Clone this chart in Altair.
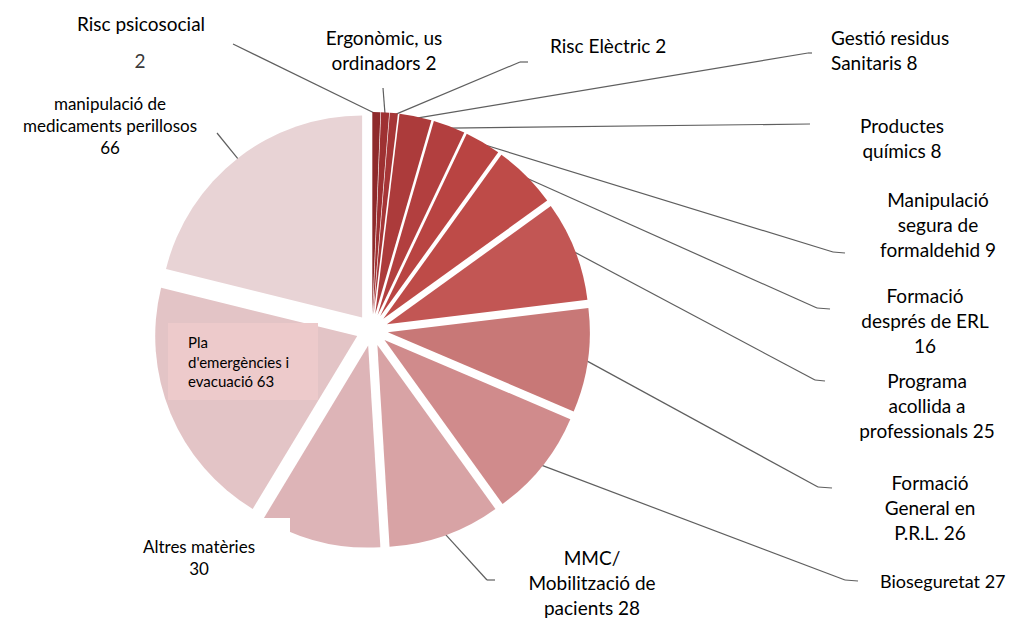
import altair as alt
import pandas as pd

# ---- data ----
categories = [
    "Risc psicosocial", "Ergonòmic, us ordinadors", "Risc Elèctric",
    "Gestió residus Sanitaris", "Productes químics",
    "Manipulació segura de formaldehid", "Formació després de ERL",
    "Programa acollida a professionals", "Formació General en P.R.L.",
    "Bioseguretat", "MMC/ Mobilització de pacients", "Altres matèries",
    "Pla d'emergències i evacuació", "manipulació de medicaments perillosos",
]
values = [2, 2, 2, 8, 8, 9, 16, 25, 26, 27, 28, 30, 63, 66]

# ---- styles ----
colors = [
    "#8E2A2B", "#9E3132", "#A63637", "#AC3B3B", "#B23F3F", "#B94442",
    "#BE4B48", "#C25654", "#C87877", "#D08B8C", "#D8A3A5", "#DDB4B7",
    "#E3C4C6", "#E8D3D5",
]

# ---- layout (page pixel coords, shifted by the 8px page margin) ----
OFF = 8
CX, CY, R, D = 372 - OFF, 330 - OFF, 202, 16

elbow_x = [233, 383, 520, 808, 810, 833, 817, 815, 818, 845, 487, None, None, 217]
elbow_y = [44, 88, 62, 53, 124, 252, 308, 380, 487, 580, 580, None, None, 133]
tail_x = [233, 383, 528, 812, 810, 845, 830, 825, 832, 858, 495, None, None, 217]
tail_y = [44, 88, 62, 53, 124, 253, 309, 381, 488, 581, 580, None, None, 133]


def sh(v):
    return None if v is None else v - OFF


df = pd.DataFrame({
    "name": categories,
    "value": values,
    "order": list(range(len(categories))),
    "ex": [sh(v) for v in elbow_x],
    "ey": [sh(v) for v in elbow_y],
    "tx": [sh(v) for v in tail_x],
    "ty": [sh(v) for v in tail_y],
})

base = alt.Chart(df).transform_joinaggregate(
    total="sum(value)"
).transform_window(
    cum="sum(value)", sort=[alt.SortField("order")], frame=[None, 0]
).transform_calculate(
    t1="2*PI*datum.cum/datum.total",
    t0="2*PI*(datum.cum-datum.value)/datum.total",
).transform_calculate(
    mid="(datum.t0+datum.t1)/2"
).transform_calculate(
    ax=f"{CX}+{D}*sin(datum.mid)",
    ay=f"{CY}-{D}*cos(datum.mid)",
    lx=f"{CX}+{R + D - 2}*sin(datum.mid)",
    ly=f"{CY}-{R + D - 2}*cos(datum.mid)",
)

leaders = base.transform_filter("isValid(datum.ex)").mark_rule(
    color="#5f5f5f", strokeWidth=1.2
).encode(
    x=alt.X("lx:Q", scale=None, axis=None),
    y=alt.Y("ly:Q", scale=None, axis=None),
    x2="ex:Q",
    y2="ey:Q",
)

tails = base.transform_filter("isValid(datum.ex)").mark_rule(
    color="#5f5f5f", strokeWidth=1.2
).encode(
    x=alt.X("ex:Q", scale=None, axis=None),
    y=alt.Y("ey:Q", scale=None, axis=None),
    x2="tx:Q",
    y2="ty:Q",
)

arcs = base.mark_arc(outerRadius=R).encode(
    theta=alt.Theta("t0:Q", scale=None),
    theta2="t1:Q",
    x=alt.X("ax:Q", scale=None, axis=None),
    y=alt.Y("ay:Q", scale=None, axis=None),
    color=alt.Color("name:N", scale=alt.Scale(domain=categories, range=colors), legend=None),
)

# label boxes
box_df = pd.DataFrame({
    "x": [168 - OFF, 128 - OFF],
    "x2": [318 - OFF, 290 - OFF],
    "y": [323 - OFF, 518 - OFF],
    "y2": [400 - OFF, 585 - OFF],
    "fill": ["#EDCACB", "#FFFFFF"],
})
boxes = alt.Chart(box_df).mark_rect().encode(
    x=alt.X("x:Q", scale=None, axis=None),
    x2="x2:Q",
    y=alt.Y("y:Q", scale=None, axis=None),
    y2="y2:Q",
    fill=alt.Fill("fill:N", scale=None),
)

# labels
lab_a = pd.DataFrame({
    "t": [
        "Risc psicosocial", "Ergonòmic, us\nordinadors 2", "Productes\nquímics 8",
        "Manipulació\nsegura de\nformaldehid 9", "Formació\ndesprés de ERL\n16",
        "Programa\nacollida a\nprofessionals 25", "Formació\nGeneral en\nP.R.L. 26",
        "MMC/\nMobilització de\npacients 28",
    ],
    "x": [141, 384, 902, 938, 925, 927, 930, 592],
    "y": [31, 45, 133, 207, 303, 388, 490, 565],
})
lab_b = pd.DataFrame({
    "t": ["Risc Elèctric 2", "Gestió residus\nSanitaris 8"],
    "x": [550, 831],
    "y": [53, 45],
})
lab_f = pd.DataFrame({"t": ["Bioseguretat 27"], "x": [880], "y": [588]})
lab_c = pd.DataFrame({
    "t": ["manipulació de\nmedicaments perillosos\n66", "Altres matèries\n30"],
    "x": [110, 199],
    "y": [110, 553],
})
lab_d = pd.DataFrame({"t": ["Pla\nd'emergències i\nevacuació 63"], "x": [188], "y": [348]})
lab_e = pd.DataFrame({"t": ["2"], "x": [140], "y": [68]})

for d in (lab_a, lab_b, lab_c, lab_d, lab_e, lab_f):
    d["x"] = d["x"] - OFF
    d["y"] = d["y"] - OFF


def text_layer(d, size, lh, align="center", color="#000000"):
    return alt.Chart(d).mark_text(
        font="Lato", fontSize=size, lineHeight=lh, lineBreak="\n",
        align=align, baseline="alphabetic", color=color,
    ).encode(
        x=alt.X("x:Q", scale=None, axis=None),
        y=alt.Y("y:Q", scale=None, axis=None),
        text="t:N",
    )


texts = [
    text_layer(lab_a, 19, 25),
    text_layer(lab_b, 19, 25, align="left"),
    text_layer(lab_f, 18, 25, align="left"),
    text_layer(lab_c, 17, 22),
    text_layer(lab_d, 15, 19.5, align="left"),
    text_layer(lab_e, 19, 25, color="#3a3a3a"),
]

chart = alt.layer(leaders, tails, arcs, boxes, *texts).properties(
    width=1004, height=612, padding=0,
    autosize=alt.AutoSizeParams(type="none"),
).configure_view(stroke=None)

chart.save("out.html", embed_options={"renderer": "svg", "actions": False})
